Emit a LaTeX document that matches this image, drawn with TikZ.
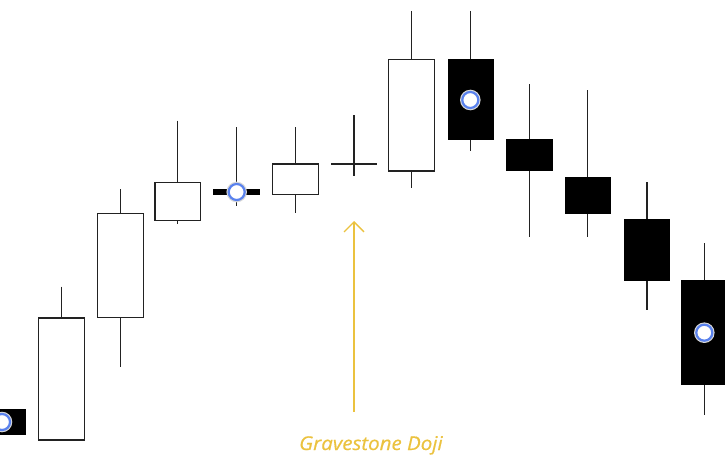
\documentclass[tikz,border=0pt]{standalone}
\usepackage{fontspec}
\setmainfont{Open Sans}
\newfontfamily\notefont[FakeStretch=1.08,FakeBold=0.6]{Open Sans}
\usetikzlibrary{arrows.meta}
\definecolor{gold}{HTML}{EBC23F}
\definecolor{ringblue}{HTML}{5A82EE}
\definecolor{halo}{HTML}{D8D8D8}
\definecolor{ink}{HTML}{222222}
\begin{document}
\begin{tikzpicture}[x=1pt,y=-1pt,
  wick/.style={draw=ink,line width=1.2pt},
  bull/.style={draw=ink,fill=white,line width=1.2pt},
  bear/.style={fill=black},
  dojibar/.style={draw=black,line width=6pt},
  marker/.style={circle,draw=ringblue,line width=2.2pt,fill=white,minimum size=16pt,inner sep=0pt,
     preaction={draw=halo,line width=4.5pt}},
  note/.style={font=\notefont\itshape\fontsize{19}{23}\selectfont,text=gold,inner sep=0pt,anchor=base west},
  callout/.style={draw=gold,line width=1.3pt,-{Straight Barb[length=10pt,width=20pt,line width=1.3pt]}}
]
\useasboundingbox (0,0) rectangle (725,460);
\begin{scope}
\clip (0,0) rectangle (725,460);
% candle 0 (bear, partially cut)
\fill[bear] (-5,409) rectangle (26,435);
\node[marker] (m0) at (2,422) {};
% candle 1
\draw[wick] (61.3,286.7) -- (61.3,318);
\draw[bull] (38.3,318) rectangle (84.3,440);
% candle 2
\draw[wick] (120.3,189) -- (120.3,366.7);
\draw[bull] (97.3,213.3) rectangle (143.3,317.7);
% candle 3
\draw[wick] (177.8,120.7) -- (177.8,224.3);
\draw[bull] (155,182.7) rectangle (200.7,220.7);
% candle 4 (doji)
\draw[wick] (236.7,127.3) -- (236.7,206);
\draw[dojibar] (213.3,192) -- (260,192);
\node[marker] (m4) at (236.7,192) {};
% candle 5
\draw[wick] (295.3,127.3) -- (295.3,212.7);
\draw[bull] (272.3,164) rectangle (318.3,194.3);
% candle 6 (gravestone doji cross)
\draw[wick] (354,115.3) -- (354,176);
\draw[wick] (331,164) -- (377.3,164);
% candle 7
\draw[wick] (411.7,11) -- (411.7,188.3);
\draw[bull] (388.5,59.3) rectangle (434.3,171);
% candle 8
\draw[wick] (470.3,11) -- (470.3,151);
\fill[bear] (447.7,59.3) rectangle (493.7,140.3);
\node[marker] (m8) at (470.3,100) {};
% candle 9
\draw[wick] (529.3,84.3) -- (529.3,236.7);
\fill[bear] (506,139.3) rectangle (552.7,171);
% candle 10
\draw[wick] (587.7,90) -- (587.7,236.7);
\fill[bear] (564.7,176.7) rectangle (611.3,214);
% candle 11
\draw[wick] (647,182.3) -- (647,310);
\fill[bear] (623.7,219.3) rectangle (670.3,281);
% candle 12
\draw[wick] (704.3,243.3) -- (704.3,415);
\fill[bear] (681.3,279.7) rectangle (730,385);
\node[marker] (m12) at (704.3,332.7) {};
\end{scope}
% callout
\coordinate (tail) at (354,411.7);
\coordinate (tip) at (354,221);
\draw[callout] (tail) -- (tip);
\node[note] (lbl) at (299,450) {Gravestone Doji};
\end{tikzpicture}
\end{document}
